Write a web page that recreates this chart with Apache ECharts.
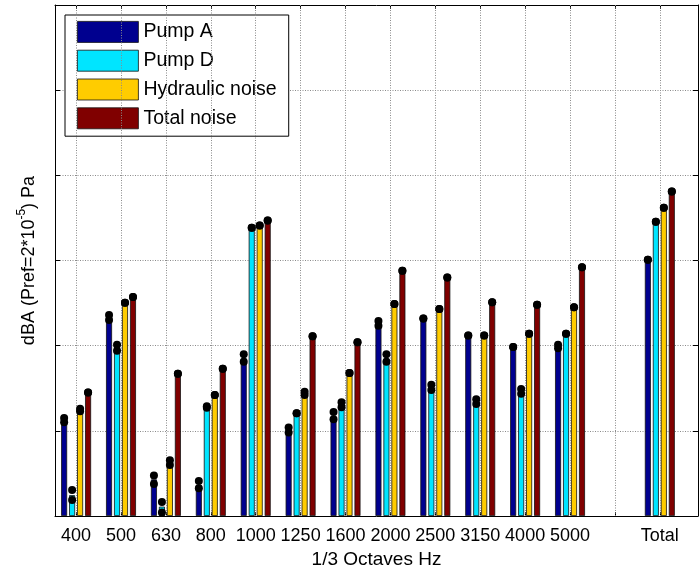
<!DOCTYPE html>
<html>
<head>
<meta charset="utf-8">
<script src="https://cdn.jsdelivr.net/npm/echarts@6/dist/echarts.min.js"></script>
<style>
html,body{margin:0;padding:0;background:#fff;}
#chart{width:699px;height:571px;}
</style>
</head>
<body>
<div id="chart"></div>
<script>
// ---- data ----
const categories = ['400','500','630','800','1000','1250','1600','2000','2500','3150','4000','5000','Total'];
const positions = [1,2,3,4,5,6,7,8,9,10,11,12,14];
const tickPositions = [1,2,3,4,5,6,7,8,9,10,11,12,13,14];
const seriesNames = ['Pump A','Pump D','Hydraulic noise','Total noise'];

const pumpA   = [11.2, 23.1, 4.3, 3.6, 18.5, 10.0, 11.6, 22.5, 23.2, 21.2, 19.85, 19.8, 30.1];
const pumpALo = [11.0, 23.0, 3.75, 3.25, 18.1, 9.8, 11.35, 22.35, 23.2, 21.2, 19.85, 19.7, 30.1];
const pumpAHi = [11.5, 23.6, 4.75, 4.1, 19.0, 10.4, 12.2, 22.9, 23.2, 21.2, 19.85, 20.1, 30.1];

const pumpD   = [2.45, 19.8, 1.1, 12.8, 33.85, 12.05, 13.0, 18.5, 15.0, 13.4, 14.6, 21.4, 34.55];
const pumpDLo = [1.88, 19.4, 0.4, 12.7, 33.85, 12.05, 12.76, 18.1, 14.8, 13.15, 14.35, 21.4, 34.55];
const pumpDHi = [3.05, 20.1, 1.64, 12.9, 33.85, 12.05, 13.35, 19.0, 15.4, 13.7, 14.9, 21.4, 34.55];

const hydraulic   = [12.4, 25.05, 6.2, 14.2, 34.1, 14.3, 16.8, 24.9, 24.3, 21.2, 21.4, 24.5, 36.2];
const hydraulicLo = [12.3, 25.05, 6.0, 14.2, 34.1, 14.2, 16.8, 24.9, 24.3, 21.2, 21.4, 24.5, 36.2];
const hydraulicHi = [12.6, 25.05, 6.55, 14.2, 34.1, 14.6, 16.8, 24.9, 24.3, 21.2, 21.4, 24.5, 36.2];

const totalNoise   = [14.5, 25.7, 16.7, 17.3, 34.7, 21.1, 20.4, 28.8, 28.0, 25.1, 24.8, 29.2, 38.1];
const totalNoiseLo = [14.5, 25.7, 16.7, 17.3, 34.7, 21.1, 20.4, 28.8, 28.0, 25.1, 24.8, 29.2, 38.1];
const totalNoiseHi = [14.5, 25.7, 16.7, 17.3, 34.7, 21.1, 20.4, 28.8, 28.0, 25.1, 24.8, 29.2, 38.1];

// ---- styling ----
const colors = ['#00008F', '#00E5FF', '#FFCC00', '#800000'];
const FONT = "'Liberation Sans', Arial, sans-serif";
const BAR_W = 6;
const BAR_GAP = 0.33;
const PITCH = BAR_W * (1 + BAR_GAP);

const values = [pumpA, pumpD, hydraulic, totalNoise];
const lows = [pumpALo, pumpDLo, hydraulicLo, totalNoiseLo];
const highs = [pumpAHi, pumpDHi, hydraulicHi, totalNoiseHi];

const gridLineStyle = { color: '#8a8a8a', type: [1, 1.5], width: 1 };

const series = [];
// vertical dotted grid lines at each category position
series.push({
  type: 'line',
  name: 'vgrid',
  data: [],
  z: 1,
  silent: true,
  markLine: {
    silent: true,
    animation: false,
    symbol: ['none', 'none'],
    label: { show: false },
    lineStyle: gridLineStyle,
    emphasis: { disabled: true },
    data: tickPositions.map(p => ({ xAxis: p }))
  }
});
values.forEach((vals, si) => {
  series.push({
    name: seriesNames[si],
    type: 'bar',
    barWidth: BAR_W,
    barGap: (BAR_GAP * 100) + '%',
    data: positions.map((p, i) => [p, vals[i]]),
    itemStyle: { color: colors[si], borderColor: '#111', borderWidth: 0.8 },
    z: 2
  });
});
values.forEach((vals, si) => {
  series.push({
    type: 'custom',
    name: seriesNames[si] + ' range',
    z: 5,
    encode: { x: 0, y: [1, 2] },
    data: positions.map((p, i) => [p, lows[si][i], highs[si][i]]),
    renderItem: function (params, api) {
      const x = api.value(0);
      const pLo = api.coord([x, api.value(1)]);
      const pHi = api.coord([x, api.value(2)]);
      const dx = (si - 1.5) * PITCH;
      return {
        type: 'group',
        children: [
          { type: 'circle', shape: { cx: pLo[0] + dx, cy: pLo[1], r: 4 }, style: { fill: '#000' } },
          { type: 'circle', shape: { cx: pHi[0] + dx, cy: pHi[1], r: 4 }, style: { fill: '#000' } }
        ]
      };
    }
  });
});

const xMin = 0.53, xMax = 14.85;

const option = {
  animation: false,
  backgroundColor: '#fff',
  grid: { left: 55, right: 1, top: 5, bottom: 55, show: false, containLabel: false, outerBoundsMode: 'none' },
  legend: {
    data: seriesNames,
    orient: 'vertical',
    left: 65, top: 15,
    padding: [6, 12, 7, 12],
    itemWidth: 61, itemHeight: 21, itemGap: 7,
    backgroundColor: '#fff',
    borderColor: '#000', borderWidth: 1,
    icon: 'rect',
    itemStyle: { borderColor: '#111', borderWidth: 0.8 },
    textStyle: { fontFamily: FONT, fontSize: 19.5, color: '#000' }
  },
  xAxis: [{
    type: 'value', min: xMin, max: xMax, position: 'bottom',
    name: '1/3 Octaves Hz', nameLocation: 'middle', nameGap: 33,
    nameTextStyle: { fontFamily: FONT, fontSize: 19, color: '#000' },
    axisLine: { show: true, onZero: false, lineStyle: { color: '#000', width: 1 } },
    axisTick: { show: true, inside: true, length: 4, customValues: tickPositions, lineStyle: { color: '#000' } },
    axisLabel: {
      show: true, customValues: positions, margin: 11,
      fontFamily: FONT, fontSize: 18, color: '#000',
      formatter: v => { const k = positions.indexOf(v); return k >= 0 ? categories[k] : ''; }
    },
    splitLine: { show: false }
  }, {
    type: 'value', min: xMin, max: xMax, position: 'top',
    axisLine: { show: true, onZero: false, lineStyle: { color: '#000', width: 1 } },
    axisTick: { show: true, inside: true, length: 4, customValues: tickPositions, lineStyle: { color: '#000' } },
    axisLabel: { show: false },
    splitLine: { show: false }
  }],
  yAxis: [{
    type: 'value', min: 0, max: 60, interval: 10, position: 'left',
    name: '{a|dBA (Pref=2*10}{s|-5}{a|) Pa}', nameLocation: 'middle', nameGap: 17,
    nameTextStyle: {
      fontFamily: FONT, fontSize: 18, color: '#000',
      rich: {
        a: { fontFamily: FONT, fontSize: 18, color: '#000', lineHeight: 22, verticalAlign: 'bottom' },
        s: { fontFamily: FONT, fontSize: 12, color: '#000', lineHeight: 22, verticalAlign: 'top' }
      }
    },
    axisLine: { show: true, lineStyle: { color: '#000', width: 1 } },
    axisTick: { show: true, inside: true, length: 5, lineStyle: { color: '#000' } },
    axisLabel: { show: false },
    splitLine: { show: true, lineStyle: gridLineStyle }
  }, {
    type: 'value', min: 0, max: 60, interval: 10, position: 'right',
    axisLine: { show: true, lineStyle: { color: '#000', width: 1 } },
    axisTick: { show: true, inside: true, length: 5, lineStyle: { color: '#000' } },
    axisLabel: { show: false },
    splitLine: { show: false }
  }],
  series: series
};

const chart = echarts.init(document.getElementById('chart'), null, { renderer: 'canvas' });
chart.setOption(option);
</script>
</body>
</html>
